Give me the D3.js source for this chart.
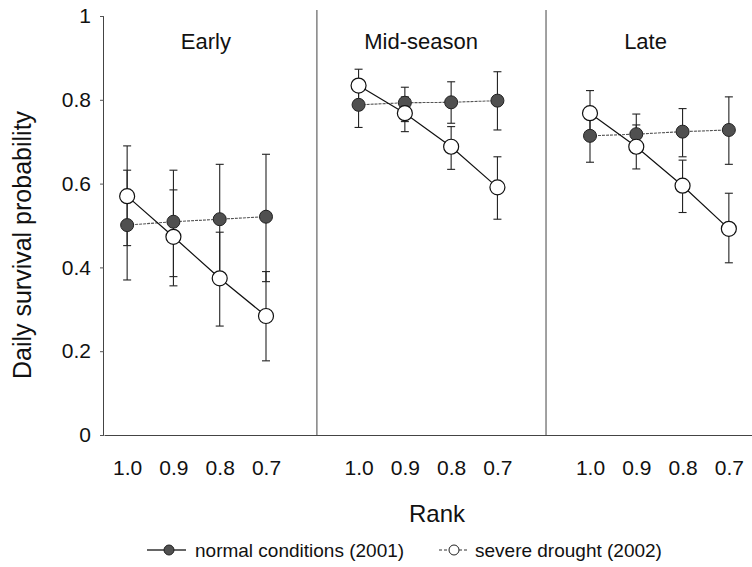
<!DOCTYPE html>
<html>
<head>
<meta charset="utf-8">
<script src="https://cdn.jsdelivr.net/npm/d3@7"></script>
<style>
  html, body { margin: 0; padding: 0; background: #fff; }
  svg { display: block; }
  text { font-family: Arial, "Liberation Sans", Helvetica, sans-serif; fill: #111; }
</style>
</head>
<body>
<svg id="chart" width="752" height="567"></svg>
<script>
// ---- data ----
const seasons = ["Early", "Mid-season", "Late"];
const ranks = ["1.0", "0.9", "0.8", "0.7"];
const yTicks = [0, 0.2, 0.4, 0.6, 0.8, 1];
const yTickLabels = ["0", "0.2", "0.4", "0.6", "0.8", "1"];

// normal conditions (2001)
const normalMean = [
  [0.501, 0.509, 0.515, 0.521],
  [0.788, 0.793, 0.794, 0.798],
  [0.714, 0.718, 0.724, 0.728]
];
const normalLow = [
  [0.370, 0.378, 0.383, 0.366],
  [0.734, 0.748, 0.744, 0.728],
  [0.651, 0.672, 0.664, 0.646]
];
const normalHigh = [
  [0.632, 0.632, 0.646, 0.670],
  [0.840, 0.830, 0.843, 0.867],
  [0.775, 0.766, 0.779, 0.807]
];

// severe drought (2002)
const droughtMean = [
  [0.570, 0.473, 0.374, 0.284],
  [0.834, 0.768, 0.688, 0.591],
  [0.768, 0.688, 0.595, 0.492]
];
const droughtLow = [
  [0.452, 0.356, 0.260, 0.177],
  [0.795, 0.724, 0.634, 0.515],
  [0.714, 0.635, 0.531, 0.411]
];
const droughtHigh = [
  [0.690, 0.585, 0.484, 0.390],
  [0.873, 0.807, 0.736, 0.664],
  [0.822, 0.740, 0.656, 0.577]
];

const legendLabels = ["normal conditions (2001)", "severe drought (2002)"];

// ---- layout ----
const svg = d3.select("#chart");
const plotTop = 16, plotBottom = 435, plotLeft = 104, plotRight = 752;
const FONT = "Arial, 'Liberation Sans', Helvetica, sans-serif";

// position index: season s, rank r -> s*5 + r
const x = d3.scaleLinear().domain([-0.5, 13.5]).range([plotLeft, plotRight]);
const y = d3.scaleLinear().domain([0, 1]).range([plotBottom, plotTop]);
const pos = (s, r) => s * 5 + r;

// panel dividers and title positions (in index units)
const dividers = [4.1, 9.05];
const titlePos = [1.7, 6.35, 11.2];

// axes
const yAxis = d3.axisLeft(y).tickValues(yTicks)
  .tickFormat((d, i) => yTickLabels[i]).tickSize(4).tickPadding(9);
const gy = svg.append("g").attr("transform", `translate(${plotLeft},0)`).call(yAxis);
gy.select(".domain").attr("stroke", "#444").attr("d", `M-0.5,${plotTop}V${plotBottom}`);
gy.selectAll(".tick line").attr("stroke", "#555");
gy.selectAll(".tick text").attr("font-size", 21).attr("fill", "#111")
  .style("font-family", FONT);

// x axis tick labels
const allTicks = [];
seasons.forEach((s, si) => ranks.forEach((r, ri) => allTicks.push({ p: pos(si, ri), label: r })));
const xAxis = d3.axisBottom(x).tickValues(allTicks.map(d => d.p))
  .tickFormat((d, i) => allTicks[i].label).tickSize(0).tickPadding(25);
const gx = svg.append("g").attr("transform", `translate(0,${plotBottom})`).call(xAxis);
gx.select(".domain").attr("stroke", "#444");
gx.selectAll(".tick text").attr("font-size", 21).attr("fill", "#111")
  .style("font-family", FONT);

// dividers
svg.append("g").selectAll("line").data(dividers).join("line")
  .attr("x1", d => x(d)).attr("x2", d => x(d))
  .attr("y1", 10).attr("y2", plotBottom)
  .attr("stroke", "#444").attr("stroke-width", 1);

// titles
svg.append("g").selectAll("text").data(seasons).join("text")
  .attr("x", (d, i) => x(titlePos[i])).attr("y", 49)
  .attr("text-anchor", "middle").attr("font-size", 22).text(d => d);

// axis titles
svg.append("text").attr("x", 437).attr("y", 522).attr("text-anchor", "middle")
  .attr("font-size", 24).text("Rank");
svg.append("text").attr("transform", "translate(31,245) rotate(-90)")
  .attr("text-anchor", "middle").attr("font-size", 25).text("Daily survival probability");

// series
function buildPoints(mean, low, high) {
  const pts = [];
  seasons.forEach((s, si) => ranks.forEach((r, ri) => pts.push({
    s: si, p: pos(si, ri), v: mean[si][ri], lo: low[si][ri], hi: high[si][ri]
  })));
  return pts;
}
const normalPts = buildPoints(normalMean, normalLow, normalHigh);
const droughtPts = buildPoints(droughtMean, droughtLow, droughtHigh);

const line = d3.line().x(d => x(d.p)).y(d => y(d.v));

// lines per panel
seasons.forEach((s, si) => {
  svg.append("path").datum(normalPts.filter(d => d.s === si))
    .attr("d", line).attr("fill", "none").attr("stroke", "#555")
    .attr("stroke-width", 1.1).attr("stroke-dasharray", "3,1");
  svg.append("path").datum(droughtPts.filter(d => d.s === si))
    .attr("d", line).attr("fill", "none").attr("stroke", "#111")
    .attr("stroke-width", 1.2);
});

// error bars
function errorBars(pts) {
  const g = svg.append("g").attr("stroke", "#222").attr("stroke-width", 1.1);
  g.selectAll("line.v").data(pts).join("line").attr("class", "v")
    .attr("x1", d => x(d.p)).attr("x2", d => x(d.p))
    .attr("y1", d => y(d.lo)).attr("y2", d => y(d.hi));
  ["lo", "hi"].forEach(k => {
    g.selectAll("line.c" + k).data(pts).join("line").attr("class", "c" + k)
      .attr("x1", d => x(d.p) - 4).attr("x2", d => x(d.p) + 4)
      .attr("y1", d => y(d[k])).attr("y2", d => y(d[k]));
  });
}
errorBars(normalPts);
errorBars(droughtPts);

// markers
svg.append("g").selectAll("circle").data(normalPts).join("circle")
  .attr("cx", d => x(d.p)).attr("cy", d => y(d.v)).attr("r", 6.5)
  .attr("fill", "#505050").attr("stroke", "#222").attr("stroke-width", 1);
svg.append("g").selectAll("circle").data(droughtPts).join("circle")
  .attr("cx", d => x(d.p)).attr("cy", d => y(d.v)).attr("r", 7.5)
  .attr("fill", "#fff").attr("stroke", "#111").attr("stroke-width", 1.2);

// legend
const lg = svg.append("g");
const ly = 550;
lg.append("line").attr("x1", 147).attr("x2", 186).attr("y1", ly).attr("y2", ly)
  .attr("stroke", "#333").attr("stroke-width", 1.3);
lg.append("circle").attr("cx", 169).attr("cy", ly).attr("r", 5)
  .attr("fill", "#505050").attr("stroke", "#222");
lg.append("text").attr("x", 195).attr("y", ly + 7).attr("font-size", 19).text(legendLabels[0]);
lg.append("line").attr("x1", 439).attr("x2", 469).attr("y1", ly).attr("y2", ly)
  .attr("stroke", "#333").attr("stroke-width", 1.2).attr("stroke-dasharray", "3,2");
lg.append("circle").attr("cx", 454).attr("cy", ly).attr("r", 5)
  .attr("fill", "#fff").attr("stroke", "#222");
lg.append("text").attr("x", 475).attr("y", ly + 7).attr("font-size", 19).text(legendLabels[1]);
</script>
</body>
</html>
